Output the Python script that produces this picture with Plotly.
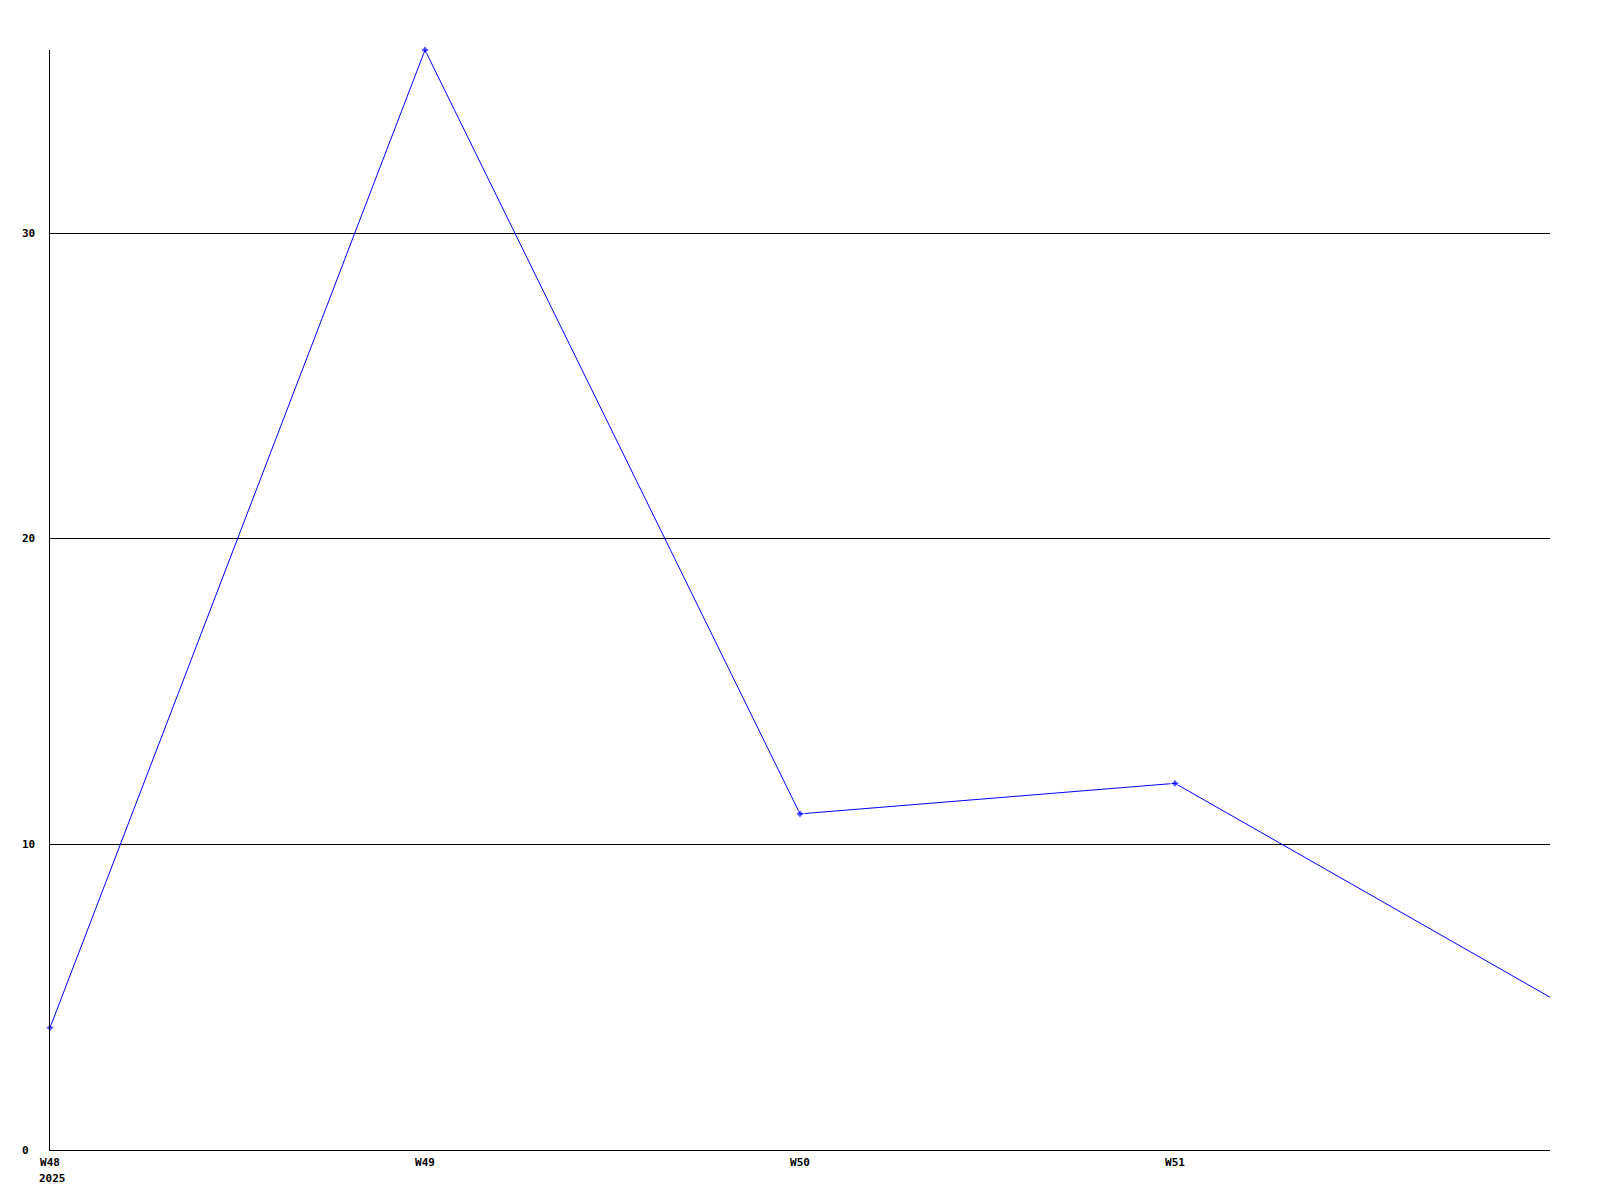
import plotly.graph_objects as go

weeks = ["W48", "W49", "W50", "W51", "W52"]
values = [4, 36, 11, 12, 5]
year_label = "2025"
y_ticks = [0, 10, 20, 30]

FONT = dict(family="DejaVu Sans Mono", size=11, color="black")
x_idx = list(range(len(weeks)))

fig = go.Figure()
fig.add_trace(go.Scatter(
    x=x_idx, y=values, mode="lines+markers",
    line=dict(color="#0000ff", width=1),
    marker=dict(color="#0000ff", symbol="star-diamond",
                size=[7] * (len(weeks) - 1) + [0]),
    showlegend=False, cliponaxis=False,
))

fig.update_layout(
    width=1600, height=1200,
    margin=dict(l=50, r=50, t=50, b=50),
    paper_bgcolor="white", plot_bgcolor="white",
    xaxis=dict(range=[0, len(weeks) - 1], tickvals=x_idx[:-1], ticktext=[f"<b>{w}</b>" for w in weeks[:-1]],
               showgrid=False, zeroline=False, showline=True, linecolor="black", linewidth=1,
               ticks="", tickfont=FONT, ticklabelstandoff=2),
    yaxis=dict(range=[0, 36], tickvals=y_ticks, showticklabels=False,
               showgrid=True, gridcolor="black", gridwidth=1, zeroline=False,
               showline=True, linecolor="black", linewidth=1, ticks=""),
)

for v in y_ticks:
    fig.add_annotation(x=-30 / 1500, xref="paper", y=v, yref="y", text=f"<b>{v}</b>",
                       showarrow=False, xanchor="left", yanchor="middle", font=FONT)

fig.add_annotation(x=0, xref="x", y=0, yref="paper", text=f"<b>{year_label}</b>",
                   showarrow=False, xanchor="left", yanchor="top", xshift=-13, yshift=-20, font=FONT)

fig.write_html("out.html", config={"displayModeBar": False},
               post_script="document.body.style.margin='0';")
